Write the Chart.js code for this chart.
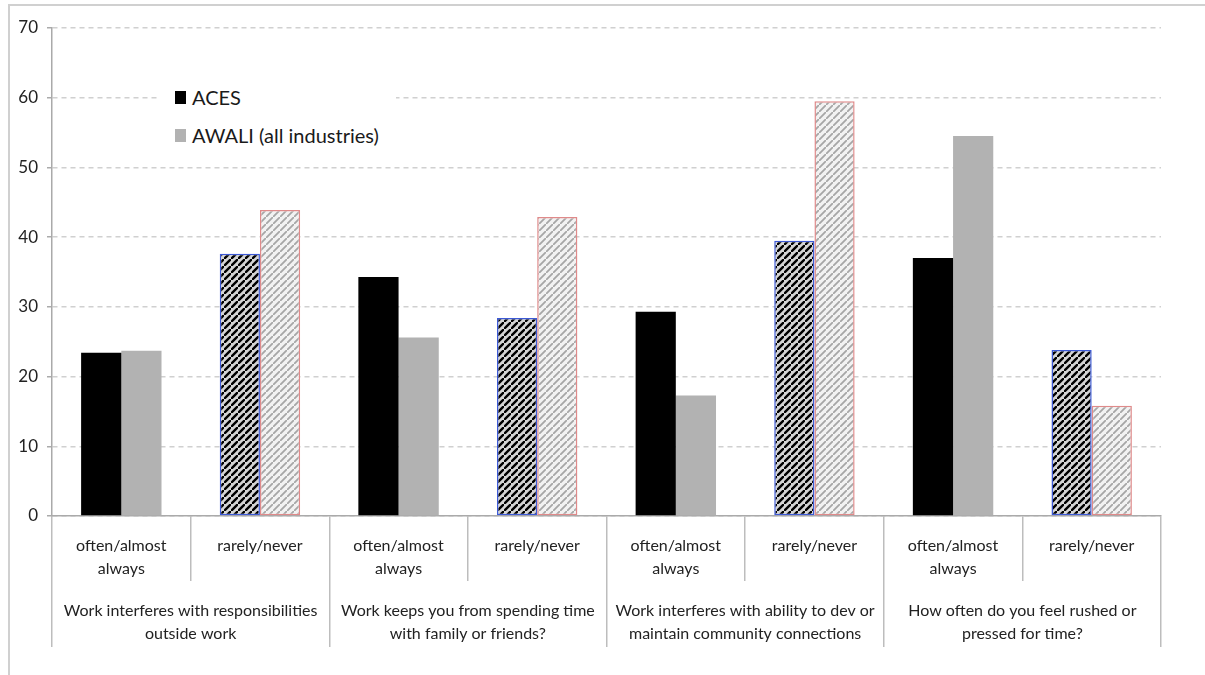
<!DOCTYPE html>
<html>
<head>
<meta charset="utf-8">
<script src="https://cdn.jsdelivr.net/npm/chart.js@4.4.0/dist/chart.umd.min.js"></script>
<style>
  body { margin: 0; background: #fff; }
  #wrap { position: relative; width: 1205px; height: 675px; overflow: hidden; }
  #frame { position: absolute; left: 8px; top: 4px; right: -10px; bottom: -10px;
           border-top: 2px solid #d0d0d0; border-left: 2px solid #d0d0d0; }
  #myChart { position: absolute; left: 0; top: 0; }
  #legend { position: absolute; left: 160px; top: 80px; width: 236px; height: 70px;
            background: #fff; font-family: Lato, sans-serif; font-size: 20px; color: #1a1a1a; }
  .item { position: absolute; left: 15px; height: 24px; line-height: 24px; }
  .box { display: inline-block; width: 11px; height: 13px; margin-right: 6px; vertical-align: 1px; }
</style>
</head>
<body>
<div id="wrap">
  <div id="frame"></div>
  <canvas id="myChart" width="1205" height="675"></canvas>
  <div id="legend">
    <div class="item" style="top:5px"><span class="box" style="background:#000"></span>ACES</div>
    <div class="item" style="top:43px"><span class="box" style="background:#b2b2b2"></span>AWALI (all industries)</div>
  </div>
</div>
<script>
// answers per sub category, % of respondents
const subLabels = [
  ['often/almost', 'always'], 'rarely/never',
  ['often/almost', 'always'], 'rarely/never',
  ['often/almost', 'always'], 'rarely/never',
  ['often/almost', 'always'], 'rarely/never'
];
const groupLabels = [
  ['Work interferes with responsibilities', 'outside work'],
  ['Work keeps you from spending time', 'with family or friends?'],
  ['Work interferes with ability to dev or', 'maintain community connections'],
  ['How often do you feel rushed or', 'pressed for time?']
];
const acesValues = [23.4, 37.6, 34.3, 28.4, 29.3, 39.5, 37.0, 23.8];
const awaliValues = [23.7, 43.9, 25.6, 42.9, 17.3, 59.5, 54.5, 15.8];
const yTicks = [0, 10, 20, 30, 40, 50, 60, 70];

function hatch(bg, fg, w) {
  const n = 7;
  const c = document.createElement('canvas');
  c.width = n; c.height = n;
  const x = c.getContext('2d');
  x.fillStyle = bg;
  x.fillRect(0, 0, n, n);
  x.strokeStyle = fg;
  x.lineWidth = w;
  x.beginPath();
  x.moveTo(-1, n + 1); x.lineTo(n + 1, -1);
  x.moveTo(-n - 1, 1); x.lineTo(1, -n - 1);
  x.moveTo(n - 1, 2 * n + 1); x.lineTo(2 * n + 1, n - 1);
  x.stroke();
  return x.createPattern(c, 'repeat');
}

const ctx = document.getElementById('myChart').getContext('2d');
const acesHatch = hatch('#d4d4d4', '#000', 2.4);
const awaliHatch = hatch('#f2f2f2', '#a6a6a6', 1.8);
const isRare = subLabels.map(l => l === 'rarely/never');

Chart.defaults.font.family = 'Lato, sans-serif';
Chart.defaults.color = '#222';

new Chart(ctx, {
  type: 'bar',
  data: {
    labels: subLabels,
    datasets: [{
      label: 'ACES',
      data: acesValues,
      backgroundColor: isRare.map(r => r ? acesHatch : '#000'),
      borderColor: isRare.map(r => r ? '#3d5ad6' : '#000'),
      borderWidth: isRare.map(r => r ? 1.5 : 0),
      borderSkipped: false,
      categoryPercentage: 0.58,
      barPercentage: 1.0
    }, {
      label: 'AWALI (all industries)',
      data: awaliValues,
      backgroundColor: isRare.map(r => r ? awaliHatch : '#b2b2b2'),
      borderColor: isRare.map(r => r ? '#e08a8a' : '#b2b2b2'),
      borderWidth: isRare.map(r => r ? 1.5 : 0),
      borderSkipped: false,
      categoryPercentage: 0.58,
      barPercentage: 1.0
    }]
  },
  options: {
    responsive: false,
    animation: false,
    layout: { padding: { left: 0, right: 44, top: 28, bottom: 28 } },
    plugins: { legend: { display: false }, tooltip: { enabled: false } },
    scales: {
      y: {
        min: 0, max: 70,
        afterBuildTicks: s => { s.ticks = yTicks.map(v => ({ value: v })); },
        afterFit: s => { s.width = 52; },
        ticks: { font: { size: 17 }, padding: 9, color: '#222' },
        grid: { color: '#d0d0d0', lineWidth: 1.5, tickLength: 5, tickColor: '#aaa', tickBorderDash: [], borderDash: [5, 4] },
        border: { display: true, color: '#aaa', width: 1.5, dash: [5, 4] }
      },
      x: {
        position: 'bottom',
        afterFit: s => { s.height = 65; },
        ticks: { font: { size: 16, lineHeight: 1.45 }, padding: -47, autoSkip: false, maxRotation: 0, color: '#222' },
        grid: { offset: true, drawOnChartArea: false, tickLength: 65, color: '#bdbdbd', lineWidth: 1.5 },
        border: { display: true, color: '#aaa', width: 1.5 }
      },
      x2: {
        type: 'category',
        position: 'bottom',
        labels: groupLabels,
        offset: true,
        afterFit: s => { s.height = 66; },
        ticks: { font: { size: 16, lineHeight: 1.45 }, padding: -48, autoSkip: false, maxRotation: 0, color: '#222' },
        grid: { offset: true, drawOnChartArea: false, tickLength: 66, color: '#bdbdbd', lineWidth: 1.5 },
        border: { display: false }
      }
    }
  }
});
</script>
</body>
</html>
